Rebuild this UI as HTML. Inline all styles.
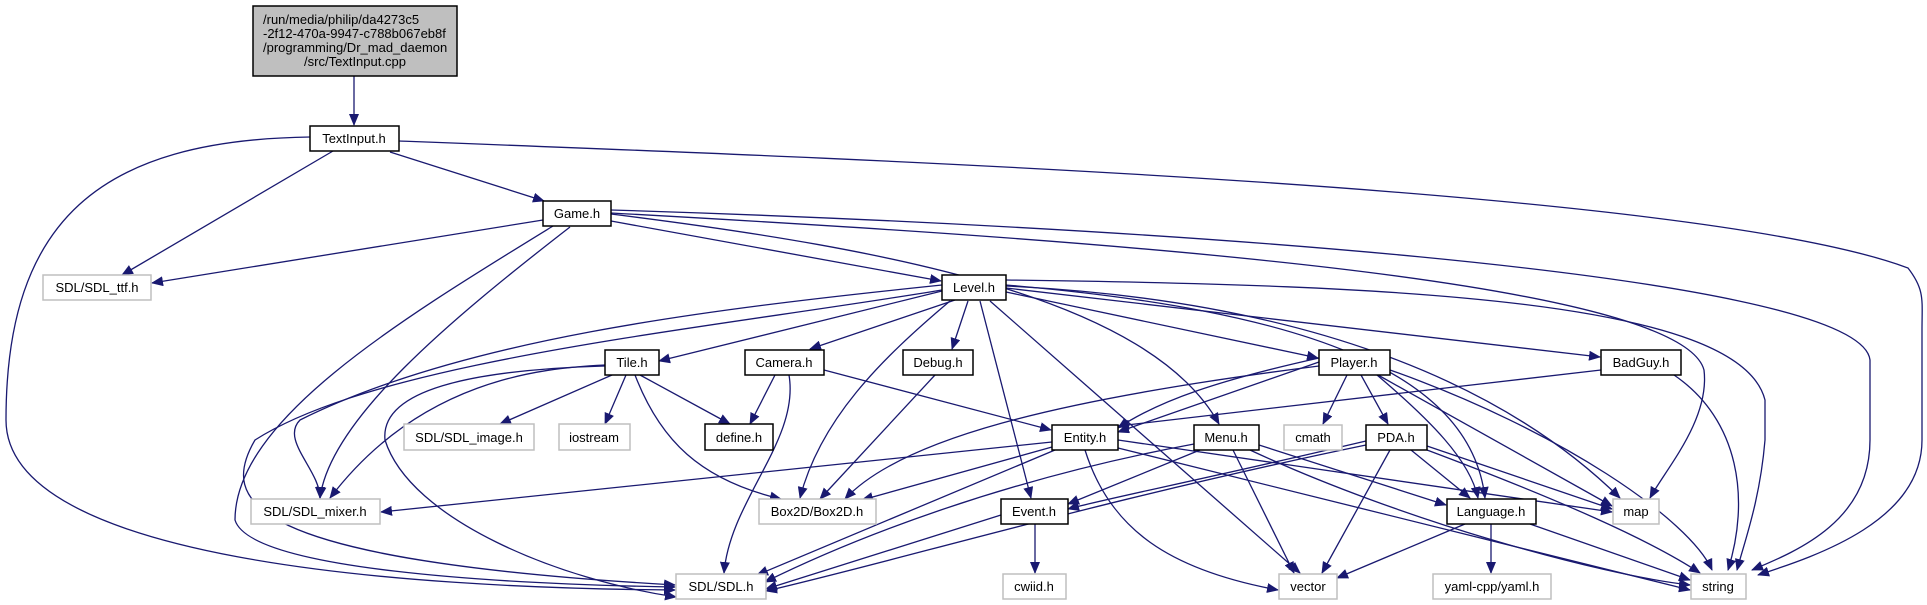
<!DOCTYPE html>
<html><head><meta charset="utf-8"><style>
html,body{margin:0;padding:0;background:#fff;}
svg{display:block;}
text{font-family:"Liberation Sans",sans-serif;font-size:13px;text-anchor:middle;fill:#000;}
.e{fill:none;stroke:#191970;stroke-width:1.3;marker-end:url(#a);}
.n{fill:#fff;stroke:#000;stroke-width:1.5;}
.g{fill:#fff;stroke:#bfbfbf;stroke-width:1.5;}
</style></head><body>
<svg width="1927" height="605" viewBox="0 0 1927 605" xmlns="http://www.w3.org/2000/svg">
<defs><marker id="a" markerWidth="12" markerHeight="10" refX="11" refY="5" orient="auto" markerUnits="userSpaceOnUse"><path d="M0,0 L12,5 L0,10 z" fill="#191970"/></marker></defs>
<!-- edges -->
<path class="e" d="M354,76 L354,125"/>
<path class="e" d="M310,137 C100,140 6,220 6,420 C6,560 400,588 675,590"/>
<path class="e" d="M333,151 L122,275"/>
<path class="e" d="M390,152 L544,201"/>
<path class="e" d="M399,141 C900,160 1700,190 1908,268 C1925,290 1922,300 1922,330 L1922,440 C1922,520 1820,555 1758,575"/>
<path class="e" d="M543,220 L152,283"/>
<path class="e" d="M570,227 C450,320 330,420 320,498"/>
<path class="e" d="M553,226 C400,320 235,420 235,520 C250,570 500,584 675,587"/>
<path class="e" d="M611,221 L941,281"/>
<path class="e" d="M611,214 C900,250 1150,300 1219,424"/>
<path class="e" d="M611,213 C1100,240 1680,280 1704,370 C1710,420 1665,470 1650,498"/>
<path class="e" d="M611,210 C1100,225 1860,270 1870,360 L1870,440 C1870,520 1800,550 1752,570"/>
<path class="e" d="M942,285 C700,310 460,340 300,420 C280,440 320,470 320,498"/>
<path class="e" d="M942,290 C700,330 380,360 255,440 C220,500 240,560 675,585"/>
<path class="e" d="M942,291 L659,361"/>
<path class="e" d="M955,300 L810,349"/>
<path class="e" d="M968,301 L952,349"/>
<path class="e" d="M950,301 C880,360 820,420 800,498"/>
<path class="e" d="M980,301 L1031,498"/>
<path class="e" d="M990,301 L1300,573"/>
<path class="e" d="M1006,292 L1318,358"/>
<path class="e" d="M1006,288 L1600,357"/>
<path class="e" d="M1006,285 C1300,310 1470,370 1485,498"/>
<path class="e" d="M1006,286 C1300,300 1500,380 1620,498"/>
<path class="e" d="M1006,280 C1400,285 1740,300 1765,400 L1765,440 C1760,500 1745,540 1737,570"/>
<path class="e" d="M605,365 C540,368 420,380 330,498"/>
<path class="e" d="M605,366 C470,370 380,390 385,440 C410,520 560,580 676,597"/>
<path class="e" d="M612,375 L500,424"/>
<path class="e" d="M626,375 L605,424"/>
<path class="e" d="M640,375 L730,424"/>
<path class="e" d="M635,375 C660,440 700,480 781,499"/>
<path class="e" d="M775,375 L750,424"/>
<path class="e" d="M789,375 C800,440 730,500 724,573"/>
<path class="e" d="M824,370 L1051,430"/>
<path class="e" d="M935,375 L820,499"/>
<path class="e" d="M1052,442 L381,512"/>
<path class="e" d="M1052,447 L862,500"/>
<path class="e" d="M1055,450 L757,575"/>
<path class="e" d="M1085,450 C1110,530 1170,570 1278,590"/>
<path class="e" d="M1118,448 L1690,590"/>
<path class="e" d="M1118,440 L1612,512"/>
<path class="e" d="M1319,366 C1050,400 900,440 845,499"/>
<path class="e" d="M1319,358 C1220,380 1160,400 1118,428"/>
<path class="e" d="M1319,362 L1118,432"/>
<path class="e" d="M1347,375 L1323,424"/>
<path class="e" d="M1361,375 L1388,424"/>
<path class="e" d="M1377,375 C1430,420 1470,460 1478,498"/>
<path class="e" d="M1378,375 L1612,506"/>
<path class="e" d="M1390,370 C1560,430 1690,520 1712,570"/>
<path class="e" d="M1601,370 L1118,426"/>
<path class="e" d="M1674,375 C1740,420 1750,500 1728,570"/>
<path class="e" d="M1200,450 L1068,504"/>
<path class="e" d="M1194,444 C1000,480 850,540 765,582"/>
<path class="e" d="M1233,450 L1294,573"/>
<path class="e" d="M1259,445 L1446,505"/>
<path class="e" d="M1250,450 C1400,520 1600,575 1690,585"/>
<path class="e" d="M1366,441 C1200,480 1100,500 1068,509"/>
<path class="e" d="M1366,445 C1100,500 900,560 766,591"/>
<path class="e" d="M1390,450 L1322,573"/>
<path class="e" d="M1411,450 L1470,498"/>
<path class="e" d="M1427,446 L1612,509"/>
<path class="e" d="M1427,450 C1560,500 1650,540 1700,573"/>
<path class="e" d="M1001,515 L766,589"/>
<path class="e" d="M1035,524 L1035,573"/>
<path class="e" d="M1465,524 L1337,578"/>
<path class="e" d="M1491,524 L1491,573"/>
<path class="e" d="M1530,524 L1690,580"/>
<!-- nodes -->
<rect x="253" y="6" width="204" height="70" fill="#bfbfbf" stroke="#000" stroke-width="1.5"/>
<text x="263" y="24" style="text-anchor:start">/run/media/philip/da4273c5</text>
<text x="263" y="38" style="text-anchor:start">-2f12-470a-9947-c788b067eb8f</text>
<text x="263" y="52" style="text-anchor:start">/programming/Dr_mad_daemon</text>
<text x="355" y="66">/src/TextInput.cpp</text>
<rect class="n" x="310" y="126" width="89" height="25"/><text x="354" y="143">TextInput.h</text>
<rect class="n" x="543" y="201" width="68" height="25"/><text x="577" y="218">Game.h</text>
<rect class="g" x="43" y="275" width="108" height="25"/><text x="97" y="292">SDL/SDL_ttf.h</text>
<rect class="n" x="942" y="275" width="64" height="25"/><text x="974" y="292">Level.h</text>
<rect class="n" x="605" y="350" width="54" height="25"/><text x="632" y="367">Tile.h</text>
<rect class="n" x="745" y="350" width="79" height="25"/><text x="784" y="367">Camera.h</text>
<rect class="n" x="903" y="350" width="70" height="25"/><text x="938" y="367">Debug.h</text>
<rect class="n" x="1319" y="350" width="71" height="25"/><text x="1354" y="367">Player.h</text>
<rect class="n" x="1601" y="350" width="80" height="25"/><text x="1641" y="367">BadGuy.h</text>
<rect class="g" x="404" y="424" width="130" height="26"/><text x="469" y="442">SDL/SDL_image.h</text>
<rect class="g" x="559" y="424" width="71" height="26"/><text x="594" y="442">iostream</text>
<rect class="n" x="705" y="424" width="68" height="26"/><text x="739" y="442">define.h</text>
<rect class="n" x="1052" y="425" width="66" height="25"/><text x="1085" y="442">Entity.h</text>
<rect class="n" x="1194" y="425" width="65" height="25"/><text x="1226" y="442">Menu.h</text>
<rect class="g" x="1284" y="425" width="58" height="25"/><text x="1313" y="442">cmath</text>
<rect class="n" x="1366" y="425" width="61" height="25"/><text x="1396" y="442">PDA.h</text>
<rect class="g" x="251" y="499" width="129" height="25"/><text x="315" y="516">SDL/SDL_mixer.h</text>
<rect class="g" x="759" y="499" width="117" height="25"/><text x="817" y="516">Box2D/Box2D.h</text>
<rect class="n" x="1001" y="499" width="67" height="25"/><text x="1034" y="516">Event.h</text>
<rect class="n" x="1447" y="499" width="89" height="25"/><text x="1491" y="516">Language.h</text>
<rect class="g" x="1613" y="499" width="46" height="25"/><text x="1636" y="516">map</text>
<rect class="g" x="676" y="574" width="90" height="25"/><text x="721" y="591">SDL/SDL.h</text>
<rect class="g" x="1003" y="574" width="63" height="25"/><text x="1034" y="591">cwiid.h</text>
<rect class="g" x="1279" y="574" width="58" height="25"/><text x="1308" y="591">vector</text>
<rect class="g" x="1433" y="574" width="118" height="25"/><text x="1492" y="591">yaml-cpp/yaml.h</text>
<rect class="g" x="1691" y="574" width="55" height="25"/><text x="1718" y="591">string</text>
</svg>
</body></html>
